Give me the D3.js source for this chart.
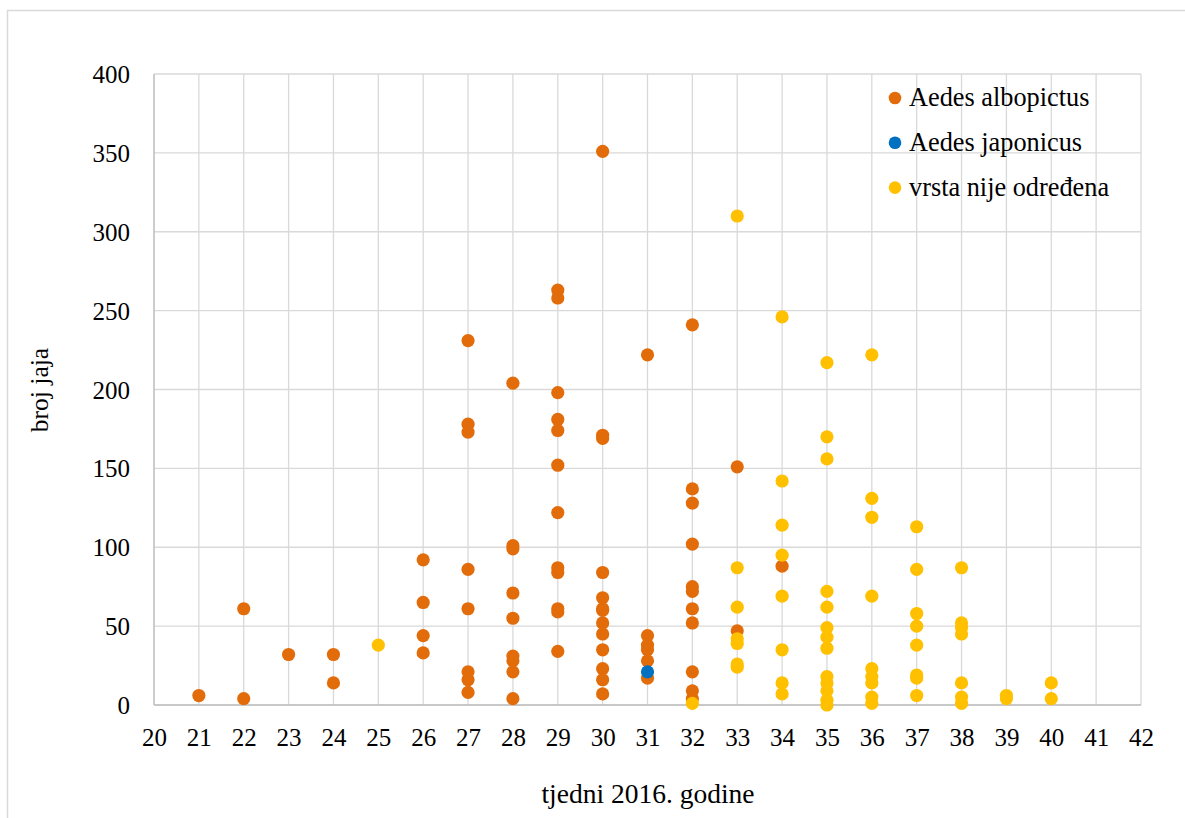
<!DOCTYPE html>
<html><head><meta charset="utf-8">
<script src="https://cdn.jsdelivr.net/npm/d3@7"></script>
<style>body{margin:0;background:#fff}svg{display:block}svg text{font-family:"Liberation Serif","Times New Roman",serif !important}</style>
</head><body>
<svg id="c" width="1185" height="818"></svg>
<script>
// ---- data (week -> egg counts per trap) ----
const seriesNames = ["Aedes albopictus", "Aedes japonicus", "vrsta nije određena"];
const albopictus = [
  [21,[6]],[22,[61,4]],[23,[32]],[24,[32,14]],[26,[92,65,44,33]],
  [27,[231,178,173,86,61,21,16,8]],
  [28,[204,101,99,71,55,31,28,21,4]],
  [29,[263,258,198,181,174,152,122,87,84,61,59,34]],
  [30,[351,171,169,84,68,61,60,52,45,35,23,16,7]],
  [31,[222,44,38,35,28,17]],
  [32,[241,137,128,102,75,72,61,52,21,9,4]],
  [33,[151,47]],[34,[88]]
];
const japonicus = [[31,[21]]];
const neodredena = [
  [25,[38]],[32,[1]],
  [33,[310,87,62,42,39,26,24]],
  [34,[246,142,114,95,69,35,14,7]],
  [35,[217,170,156,72,62,49,43,36,18,14,9,3,0]],
  [36,[222,131,119,69,23,18,14,5,1]],
  [37,[113,86,58,50,38,19,17,6]],
  [38,[87,52,49,45,14,5,1]],
  [39,[6,4]],[40,[14,4]]
];
const xTicks = d3.range(20, 43, 1);
const yTicks = [0,50,100,150,200,250,300,350,400];
const colors = ["#E36C0A", "#0070C0", "#FFC000"];
const xTitle = "tjedni 2016. godine";
const yTitle = "broj jaja";

// ---- layout ----
const svg = d3.select("#c");
const L = 154, R = 1141, T = 74, B = 705;
const x = d3.scaleLinear().domain([20,42]).range([L,R]);
const y = d3.scaleLinear().domain([0,400]).range([B,T]);

svg.append("rect").attr("x",7.5).attr("y",10.5).attr("width",1200).attr("height",830)
  .attr("fill","none").attr("stroke","#d9d9d9").attr("stroke-width",1.5);

// gridlines
const g = svg.append("g");
g.selectAll(".vx").data(xTicks).join("line")
  .attr("x1",d=>x(d)).attr("x2",d=>x(d)).attr("y1",T).attr("y2",B)
  .attr("stroke","#d9d9d9").attr("stroke-width",1.3);
g.selectAll(".hy").data(yTicks).join("line")
  .attr("x1",L).attr("x2",R).attr("y1",d=>y(d)).attr("y2",d=>y(d))
  .attr("stroke","#d9d9d9").attr("stroke-width",1.3);
g.append("line").attr("x1",L).attr("x2",L).attr("y1",T).attr("y2",B).attr("stroke","#bfbfbf").attr("stroke-width",1.3);
g.append("line").attr("x1",L).attr("x2",R).attr("y1",B).attr("y2",B).attr("stroke","#bfbfbf").attr("stroke-width",1.3);

// axes via d3
const xAxis = d3.axisBottom(x).tickValues(xTicks).tickSize(0).tickPadding(0).tickFormat(d3.format("d"));
const xa = svg.append("g").attr("transform",`translate(0,${B})`).call(xAxis)
  .attr("font-family",null).attr("font-size",null);
xa.select(".domain").remove();
xa.selectAll("text").attr("y",41).attr("dy",null)
  .style("font-size","25px").attr("fill","#000");

const yAxis = d3.axisLeft(y).tickValues(yTicks).tickSize(0).tickPadding(0).tickFormat(d3.format("d"));
const ya = svg.append("g").attr("transform",`translate(${L},0)`).call(yAxis)
  .attr("font-family",null).attr("font-size",null);
ya.select(".domain").remove();
ya.selectAll("text").attr("x",-24).attr("dy",null).attr("y",8.5)
  .attr("text-anchor","end")
  .style("font-size","25px").attr("fill","#000");

// points
const flat = s => s.flatMap(([w,vals]) => vals.map(v => ({w, v})));
[albopictus, japonicus, neodredena].forEach((s,i) => {
  svg.append("g").selectAll("circle").data(flat(s)).join("circle")
    .attr("cx",d=>x(d.w)).attr("cy",d=>y(d.v)).attr("r",6.6).attr("fill",colors[i]);
});

// legend
const lg = svg.append("g");
seriesNames.forEach((n,i) => {
  const cy = 98 + i*44.8;
  lg.append("circle").attr("cx",895).attr("cy",cy).attr("r",6.3).attr("fill",colors[i]);
  lg.append("text").text(n).attr("x",909).attr("y",cy+8)
    .style("font-size","26.3px").attr("fill","#000");
});

// titles
svg.append("text").text(xTitle).attr("x",648).attr("y",803).attr("text-anchor","middle")
  .style("font-size","27.5px").attr("fill","#000");
svg.append("text").text(yTitle)
  .attr("transform",`translate(48,390) rotate(-90)`)
  .attr("text-anchor","middle").style("font-size","25.5px").attr("fill","#000");
</script>
</body></html>
